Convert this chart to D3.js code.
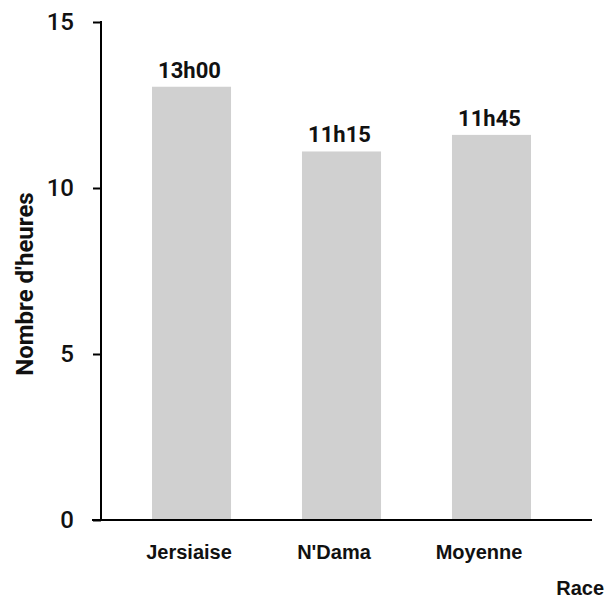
<!DOCTYPE html>
<html>
<head>
<meta charset="utf-8">
<script src="https://cdn.jsdelivr.net/npm/d3@7/dist/d3.min.js"></script>
<style>
  html, body { margin: 0; padding: 0; background: #fff; }
  svg { display: block; }
</style>
</head>
<body>
<svg id="chart" width="613" height="598"></svg>
<script>
// ---- data ----
const categories = ["Jersiaise", "N'Dama", "Moyenne"];
const hours = [13.05, 11.1, 11.6];
const valueLabels = ["13h00", "11h15", "11h45"];
const yTicks = [0, 5, 10, 15];
const yTitle = "Nombre d'heures";
const xTitle = "Race";

// ---- layout ----
const svg = d3.select("#chart");
const axisX = 101, axisY = 520;

const y = d3.scaleLinear().domain([0, 15]).range([520, 22]);
const x = d3.scaleBand().domain(categories)
  .range([101, 582]).paddingInner(0.473).paddingOuter(0.34);
const xLabel = d3.scalePoint().domain(categories).range([189, 479]);

// bars
svg.selectAll("rect.bar").data(categories).enter().append("rect")
  .attr("class", "bar")
  .attr("x", d => x(d))
  .attr("width", x.bandwidth())
  .attr("y", (d, i) => y(hours[i]))
  .attr("height", (d, i) => y(0) - y(hours[i]))
  .attr("fill", "#d0d0d0");

// value labels
svg.selectAll("text.val").data(categories).enter().append("text")
  .attr("class", "val")
  .attr("x", d => x(d) + x.bandwidth() / 2 - 2)
  .attr("y", (d, i) => y(hours[i]) - 9)
  .attr("text-anchor", "middle")
  .attr("font-family", "Roboto")
  .attr("font-weight", 700)
  .attr("font-size", 22)
  .attr("fill", "#111")
  .text((d, i) => valueLabels[i]);

// y axis
const yAxis = d3.axisLeft(y).tickValues(yTicks).tickSize(8).tickPadding(19)
  .tickFormat(d3.format("d"));
const gy = svg.append("g").attr("transform", `translate(${axisX},0)`).call(yAxis);
gy.select(".domain").remove();
gy.selectAll(".tick line").attr("stroke", "#000").attr("stroke-width", 2);
gy.selectAll(".tick text").attr("font-family", "Roboto").attr("font-size", 24)
  .attr("font-weight", 500).attr("fill", "#111");
svg.append("line").attr("x1", axisX).attr("x2", axisX)
  .attr("y1", y(15) - 1).attr("y2", axisY)
  .attr("stroke", "#000").attr("stroke-width", 2);

// x axis line
svg.append("line").attr("x1", 92).attr("x2", 592)
  .attr("y1", axisY).attr("y2", axisY)
  .attr("stroke", "#000").attr("stroke-width", 2);

// category labels
svg.selectAll("text.cat").data(categories).enter().append("text")
  .attr("class", "cat")
  .attr("x", d => xLabel(d))
  .attr("y", 559)
  .attr("text-anchor", "middle")
  .attr("font-family", "Liberation Sans, Arial, sans-serif")
  .attr("font-weight", "bold")
  .attr("font-size", 20)
  .attr("fill", "#111")
  .text(d => d);

// axis titles
svg.append("text")
  .attr("x", 604).attr("y", 595)
  .attr("text-anchor", "end")
  .attr("font-family", "Liberation Sans, Arial, sans-serif")
  .attr("font-weight", "bold")
  .attr("font-size", 20)
  .attr("fill", "#111")
  .text(xTitle);

svg.append("text")
  .attr("transform", "translate(33,284) rotate(-90)")
  .attr("text-anchor", "middle")
  .attr("font-family", "Roboto")
  .attr("font-weight", 700)
  .attr("font-size", 24)
  .attr("fill", "#111")
  .text(yTitle);
</script>
</body>
</html>
